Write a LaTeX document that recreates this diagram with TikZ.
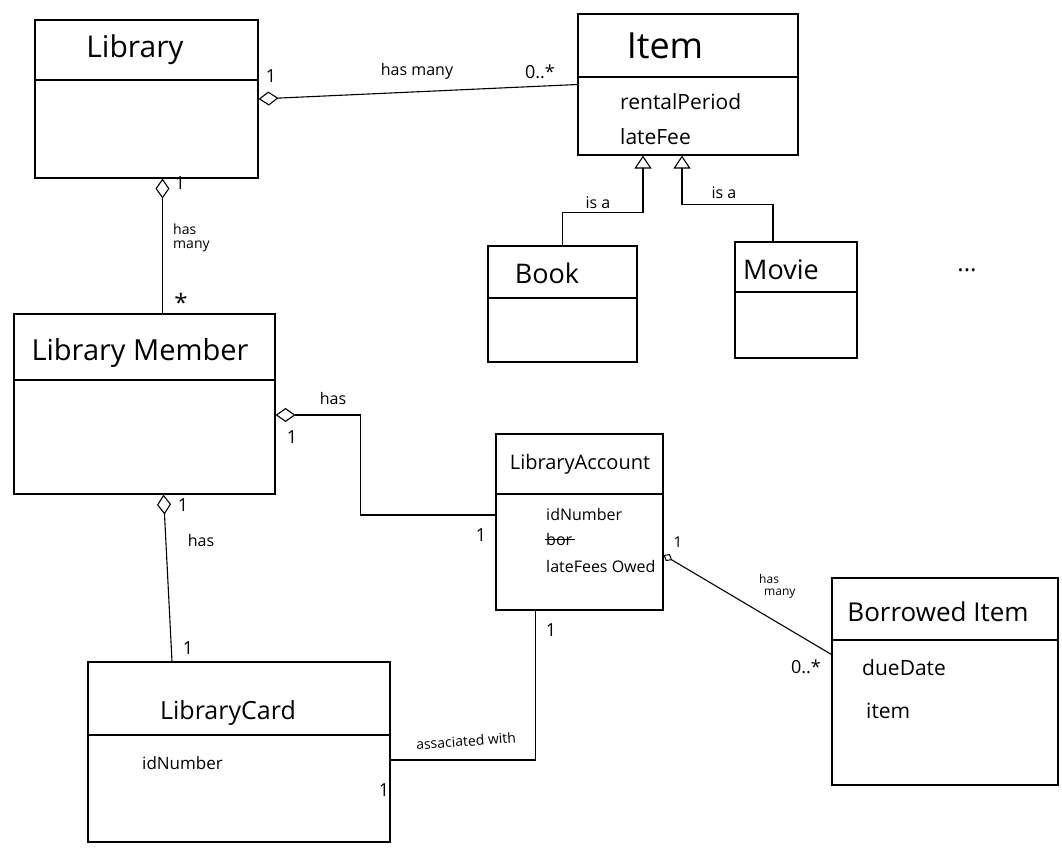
\documentclass[tikz,border=0pt]{standalone}
\usepackage{fontspec}
\setmainfont{Open Sans}
\usetikzlibrary{arrows.meta}
\newcommand{\fs}[1]{\fontsize{#1}{#1}\selectfont}
\begin{document}
\begin{tikzpicture}[x=1pt,y=-1pt,
  clsbox/.style={draw, line width=1.1pt, inner sep=0pt},
  divline/.style={line width=1.1pt},
  ttl/.style={inner sep=0pt, anchor=center},
  attr/.style={inner sep=0pt, anchor=west},
  lbl/.style={inner sep=1pt, font=\fs{16}},
  mult/.style={inner sep=1pt, font=\fs{18}},
  assoc/.style={line width=1.1pt},
  aggr/.style={line width=1.1pt, {Diamond[open, length=20pt, width=14pt, line width=1.1pt]}-},
  smallaggr/.style={line width=1.1pt, {Diamond[open, length=10pt, width=8pt, line width=1pt]}-},
  gen/.style={line width=1.1pt, -{Triangle[open, length=13pt, width=17pt, line width=1.1pt]}}]
\useasboundingbox[fill=white] (0,0) rectangle (1062,850);

% ---- class boxes ----
\node[clsbox, minimum width=223pt, minimum height=158pt] (lib) at (146.5,99) {};
\draw[divline] (lib.west |- 0,80) -- (lib.east |- 0,80);
\node[ttl, font=\fs{30}] (libT) at (135,50) {Library};

\node[clsbox, minimum width=220pt, minimum height=141pt] (item) at (688,84.5) {};
\draw[divline] (item.west |- 0,77) -- (item.east |- 0,77);
\node[ttl, font=\fs{36}] (itemT) at (665,46) {Item};
\node[attr, font=\fs{21}] (itemA1) at (620,102) {rentalPeriod};
\node[attr, font=\fs{21}] (itemA2) at (620,137) {lateFee};

\node[clsbox, minimum width=149pt, minimum height=116pt] (book) at (562.5,304) {};
\draw[divline] (book.west |- 0,298) -- (book.east |- 0,298);
\node[ttl, font=\fs{27}] (bookT) at (547,273) {Book};

\node[clsbox, minimum width=122pt, minimum height=116pt] (movie) at (796,300) {};
\draw[divline] (movie.west |- 0,292) -- (movie.east |- 0,292);
\node[ttl, font=\fs{27}] (movieT) at (781,270) {Movie};

\node[ttl, font=\fs{24}] (more) at (967,270) {...};

\node[clsbox, minimum width=261pt, minimum height=180pt] (member) at (144.5,404) {};
\draw[divline] (member.west |- 0,380) -- (member.east |- 0,380);
\node[ttl, font=\fs{29}] (memberT) at (140,353) {Library Member};

\node[clsbox, minimum width=167pt, minimum height=176pt] (acct) at (579.5,522) {};
\draw[divline] (acct.west |- 0,494) -- (acct.east |- 0,494);
\node[ttl, font=\fs{20}] (acctT) at (580,464) {LibraryAccount};
\node[attr, font=\fs{16}] (acctA1) at (546,514) {idNumber};
\node[attr, font=\fs{16}] (acctA2) at (546,539) {bor};
\draw[line width=1pt] ([xshift=-1pt]acctA2.west) -- ([xshift=3pt]acctA2.east);
\node[attr, font=\fs{16}] (acctA3) at (546,566) {lateFees Owed};

\node[clsbox, minimum width=226pt, minimum height=207pt] (borrowed) at (945,681.5) {};
\draw[divline] (borrowed.west |- 0,640) -- (borrowed.east |- 0,640);
\node[ttl, font=\fs{26}] (borrowedT) at (938,612) {Borrowed Item};
\node[attr, font=\fs{21}] (borA1) at (862,668) {dueDate};
\node[attr, font=\fs{21}] (borA2) at (866,711) {item};

\node[clsbox, minimum width=302pt, minimum height=180pt] (card) at (239,752) {};
\draw[divline] (card.west |- 0,735) -- (card.east |- 0,735);
\node[ttl, font=\fs{25}] (cardT) at (228,713) {LibraryCard};
\node[attr, font=\fs{17}] (cardA1) at (142,763) {idNumber};

% ---- connectors ----
% Library -- Item
\draw[aggr] (lib.east) -- (item.west);
\node[mult] (m1a) at (271,76) {1};
\node[lbl] (l1) at (417,71) {has many};
\node[mult] (m1b) at (540,72) {0..*};

% Library -- LibraryMember
\draw[aggr] ([xshift=16pt]lib.south) -- ([xshift=18pt]member.north);
\node[mult] (m2a) at (180,183) {1};
\node[lbl, align=left, anchor=west, font=\fs{14}] (l2) at (172,238) {has\\many};
\node[mult, font=\fs{24}] (m2b) at (181,302) {*};

% LibraryMember -- LibraryAccount
\draw[aggr] ([yshift=-11pt]member.east) -- ++(85,0) |- ([yshift=7pt]acct.west);
\node[lbl] (l3) at (333,398) {has};
\node[mult] (m3a) at (292,437) {1};
\node[mult] (m3b) at (481,535) {1};

% LibraryMember -- LibraryCard
\draw[aggr] ([xshift=19pt]member.south) -- ([xshift=-67pt]card.north);
\node[mult] (m4a) at (183,505) {1};
\node[lbl] (l4) at (201,540) {has};
\node[mult] (m4b) at (188,648) {1};

% LibraryAccount -- LibraryCard
\draw[assoc] ([xshift=-44pt]acct.south) |- ([yshift=-8pt]card.east);
\node[mult] (m5a) at (551,630) {1};
\node[lbl, font=\fs{14}, rotate=4] (l5) at (466,741) {assaciated with};
\node[mult] (m5b) at (384,790) {1};

% LibraryAccount -- BorrowedItem
\draw[smallaggr] ([yshift=-33pt]acct.east) -- ([yshift=27pt]borrowed.west);
\node[mult, font=\fs{15}] (m6a) at (678,542) {1};
\node[lbl, align=left, anchor=west, font=\fs{12}] (l6) at (758,586) {has\\\hspace*{5pt}many};
\node[mult] (m6b) at (806,667) {0..*};

% Generalizations
\draw[gen] (book.north) -- ++(0,-33) -| ([xshift=-45pt]item.south);
\node[lbl] (l7) at (598,203) {is a};
\draw[gen] ([xshift=-23pt]movie.north) -- ++(0,-37) -| ([xshift=-6pt]item.south);
\node[lbl] (l8) at (724,193) {is a};
\end{tikzpicture}
\end{document}
